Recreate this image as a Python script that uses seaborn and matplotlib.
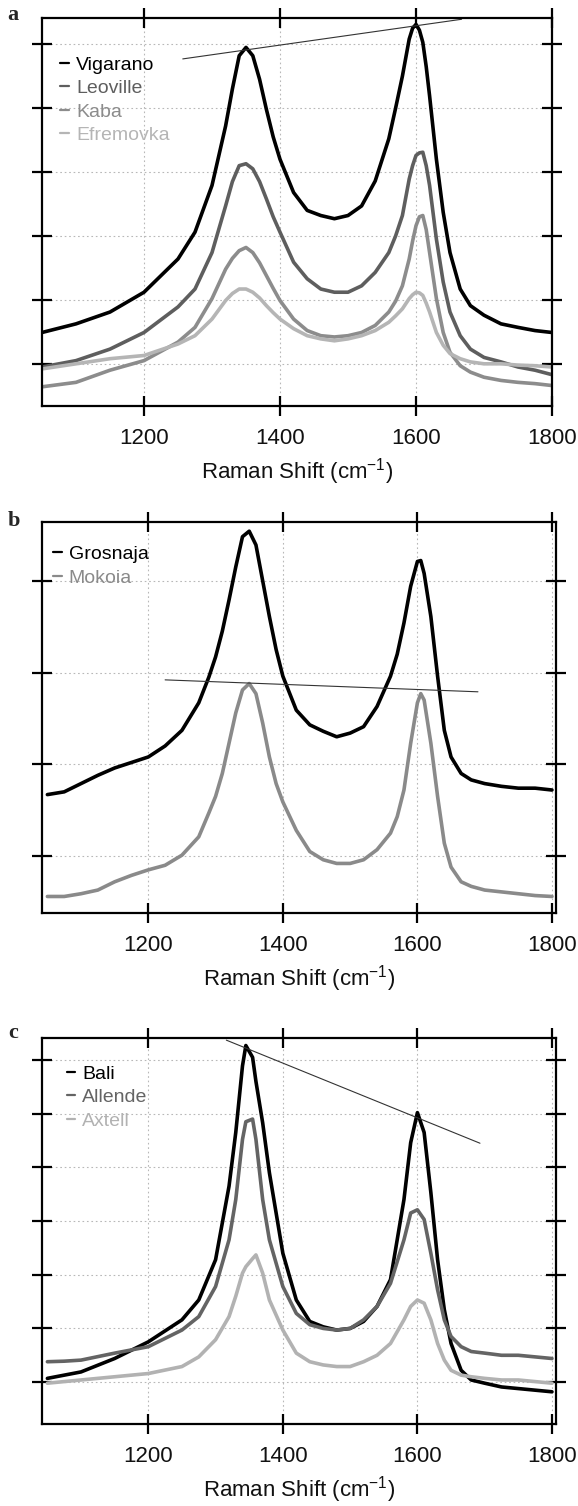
import matplotlib
matplotlib.use("Agg")
import matplotlib.pyplot as plt
import seaborn as sns

# ---------------- data (arbitrary intensity units) ----
x_a = [1050, 1100, 1150, 1200, 1250, 1275, 1300, 1320, 1330, 1340, 1350, 1360,
       1370, 1380, 1390, 1400, 1420, 1440, 1460, 1480, 1500, 1520, 1540, 1560,
       1570, 1580, 1590, 1595, 1600, 1605, 1610, 1615, 1620, 1630, 1640, 1650,
       1665, 1680, 1700, 1725, 1750, 1775, 1800]
vigarano = [0.49, 0.625, 0.81, 1.12, 1.64, 2.06, 2.79, 3.72, 4.3, 4.82, 4.95, 4.82,
            4.45, 3.98, 3.55, 3.2, 2.68, 2.4, 2.32, 2.27, 2.32, 2.47, 2.86, 3.52,
            4.0, 4.5, 5.08, 5.25, 5.31, 5.22, 5.03, 4.65, 4.19, 3.2, 2.37, 1.74,
            1.17, 0.91, 0.76, 0.625, 0.57, 0.52, 0.49]
leoville = [-0.05, 0.05, 0.23, 0.49, 0.89, 1.17, 1.74, 2.47, 2.85, 3.1, 3.13, 3.05,
            2.85, 2.58, 2.3, 2.06, 1.59, 1.33, 1.17, 1.12, 1.12, 1.22, 1.43, 1.74,
            2.0, 2.32, 2.89, 3.1, 3.26, 3.3, 3.31, 3.1, 2.79, 1.95, 1.28, 0.81,
            0.44, 0.23, 0.1, 0.03, -0.05, -0.1, -0.17]
kaba = [-0.36, -0.29, -0.1, 0.05, 0.34, 0.57, 1.02, 1.48, 1.65, 1.77, 1.82, 1.74,
        1.58, 1.38, 1.18, 0.99, 0.7, 0.52, 0.44, 0.42, 0.44, 0.49, 0.6, 0.81,
        0.98, 1.22, 1.64, 1.92, 2.16, 2.3, 2.32, 2.1, 1.74, 1.02, 0.49, 0.18,
        -0.03, -0.13, -0.21, -0.26, -0.29, -0.31, -0.34]
efremovka = [-0.08, 0.0, 0.08, 0.13, 0.31, 0.44, 0.7, 0.99, 1.1, 1.17, 1.17, 1.12,
             1.03, 0.91, 0.8, 0.7, 0.55, 0.44, 0.39, 0.36, 0.39, 0.44, 0.52, 0.65,
             0.75, 0.86, 1.02, 1.08, 1.12, 1.11, 1.07, 0.95, 0.81, 0.49, 0.29, 0.16,
             0.08, 0.03, 0.0, 0.0, -0.02, -0.03, -0.05]
ref_a_x = [1257, 1667]
ref_a_y = [4.77, 5.39]

x_b = [1050, 1075, 1100, 1125, 1150, 1175, 1200, 1225, 1250, 1275, 1290, 1300,
       1310, 1320, 1330, 1340, 1350, 1360, 1370, 1380, 1390, 1400, 1420, 1440,
       1460, 1480, 1500, 1520, 1540, 1560, 1570, 1580, 1590, 1600, 1605, 1610,
       1620, 1630, 1640, 1650, 1665, 1680, 1700, 1725, 1750, 1775, 1800]
grosnaja = [0.67, 0.7, 0.79, 0.88, 0.96, 1.02, 1.08, 1.2, 1.37, 1.67, 1.95, 2.17,
            2.45, 2.79, 3.15, 3.48, 3.54, 3.39, 3.0, 2.61, 2.25, 1.96, 1.59, 1.43,
            1.36, 1.3, 1.34, 1.41, 1.63, 1.96, 2.2, 2.54, 2.94, 3.21, 3.22, 3.08,
            2.61, 1.96, 1.37, 1.08, 0.9, 0.83, 0.79, 0.76, 0.74, 0.74, 0.72]
mokoia = [-0.44, -0.44, -0.41, -0.37, -0.28, -0.21, -0.15, -0.1, 0.01, 0.21, 0.47, 0.65,
          0.9, 1.23, 1.56, 1.81, 1.88, 1.77, 1.45, 1.08, 0.79, 0.59, 0.28, 0.05,
          -0.04, -0.08, -0.08, -0.04, 0.07, 0.25, 0.43, 0.72, 1.23, 1.67, 1.77, 1.7,
          1.23, 0.65, 0.14, -0.12, -0.28, -0.33, -0.37, -0.39, -0.41, -0.43, -0.44]
ref_b_x = [1225, 1690]
ref_b_y = [1.92, 1.79]

x_c = [1050, 1075, 1100, 1150, 1200, 1250, 1275, 1300, 1320, 1330, 1340, 1345,
       1355, 1360, 1370, 1380, 1400, 1420, 1440, 1460, 1480, 1500, 1520, 1540,
       1560, 1580, 1590, 1600, 1610, 1620, 1630, 1640, 1650, 1665, 1680, 1700,
       1725, 1750, 1775, 1800]
bali = [0.07, 0.13, 0.19, 0.44, 0.75, 1.16, 1.53, 2.28, 3.65, 4.65, 5.89, 6.27,
        6.05, 5.6, 4.83, 3.9, 2.4, 1.53, 1.13, 1.03, 0.97, 1.0, 1.13, 1.41,
        1.91, 3.4, 4.46, 5.02, 4.65, 3.53, 2.28, 1.35, 0.72, 0.22, 0.04, -0.02,
        -0.09, -0.12, -0.15, -0.18]
allende = [0.38, 0.39, 0.41, 0.54, 0.66, 0.97, 1.22, 1.78, 2.65, 3.4, 4.52, 4.85,
           4.9, 4.52, 3.4, 2.65, 1.78, 1.28, 1.07, 1.0, 0.97, 1.0, 1.16, 1.41,
           1.84, 2.65, 3.15, 3.21, 3.03, 2.4, 1.72, 1.16, 0.85, 0.66, 0.57, 0.54,
           0.5, 0.5, 0.47, 0.44]
axtell = [-0.02, 0.01, 0.04, 0.1, 0.16, 0.29, 0.47, 0.79, 1.22, 1.6, 2.03, 2.15,
          2.3, 2.37, 2.03, 1.53, 0.97, 0.54, 0.38, 0.32, 0.29, 0.29, 0.38, 0.5,
          0.72, 1.16, 1.41, 1.53, 1.47, 1.16, 0.72, 0.41, 0.22, 0.13, 0.1, 0.07,
          0.04, 0.04, 0.01, -0.02]
ref_c_x = [1316, 1693]
ref_c_y = [6.37, 4.45]

x_ticks = [1200, 1400, 1600, 1800]
panel_letters = ["a", "b", "c"]
x_label = "Raman Shift (cm$^{-1}$)"

# ---------------- styling ----------------
sns.set_theme(style="white")
plt.rcParams['font.family'] = ['Liberation Sans', 'DejaVu Sans']
plt.rcParams['mathtext.fontset'] = 'custom'
plt.rcParams['mathtext.rm'] = 'Liberation Sans'
plt.rcParams['mathtext.it'] = 'Liberation Sans:italic'

W, H = 578, 1506
fig = plt.figure(figsize=(W / 100, H / 100), dpi=100)
fig.patch.set_facecolor('white')


def add_ax(l, t, r, b):
    return fig.add_axes([l / W, 1 - b / H, (r - l) / W, (b - t) / H])


panels = [
    dict(box=(42, 18, 552, 406), xlim=(1050, 1800), ylim=(-0.66, 5.41), nt=6,
         x=x_a, series=[("Vigarano", vigarano, "#000000"),
                        ("Leoville", leoville, "#5e5e5e"),
                        ("Kaba", kaba, "#8c8c8c"),
                        ("Efremovka", efremovka, "#b5b5b5")],
         ref=(ref_a_x, ref_a_y), leg=(0.036, 0.902), letter=(13, 15)),
    dict(box=(42, 522, 556, 913), xlim=(1042, 1806), ylim=(-0.62, 3.64), nt=4,
         x=x_b, series=[("Grosnaja", grosnaja, "#000000"),
                        ("Mokoia", mokoia, "#8a8a8a")],
         ref=(ref_b_x, ref_b_y), leg=(0.022, 0.94), letter=(14, 521)),
    dict(box=(42, 1038, 556, 1424), xlim=(1042, 1806), ylim=(-0.78, 6.41), nt=7,
         x=x_c, series=[("Bali", bali, "#000000"),
                        ("Allende", allende, "#646464"),
                        ("Axtell", axtell, "#b2b2b2")],
         ref=(ref_c_x, ref_c_y), leg=(0.048, 0.93), letter=(13, 1033)),
]

for p, letter in zip(panels, panel_letters):
    ax = add_ax(*p["box"])
    ax.set_facecolor('white')
    for name, yv, col in p["series"]:
        sns.lineplot(x=p["x"], y=yv, color=col, lw=2.6, ax=ax, label=name,
                     estimator=None, sort=False)
    rx, ry = p["ref"]
    sns.lineplot(x=rx, y=ry, color="#333333", lw=0.8, ax=ax, estimator=None,
                 sort=False)

    ax.set_xlim(*p["xlim"])
    ax.set_ylim(*p["ylim"])
    ax.set_xticks(x_ticks)
    ax.set_yticks(list(range(p["nt"])))
    ax.set_yticklabels([])
    ax.grid(True, ls=(0, (1.5, 2.5)), color="#b8b8b8", lw=0.8)
    ax.set_axisbelow(True)
    for s in ax.spines.values():
        s.set_color("black")
        s.set_linewidth(1.6)
    ax.tick_params(axis='both', direction='inout', length=14, width=1.6,
                   color='black', top=True, right=True, left=True, bottom=True,
                   labelsize=16, pad=9, labelcolor='#111111')
    ax.set_xlabel(x_label, fontsize=16, labelpad=5, color='#111111')
    ax.set_ylabel("")

    leg = ax.legend(loc='upper left', bbox_to_anchor=p["leg"], frameon=False,
                    handlelength=0.45, handletextpad=0.35, labelspacing=0.3,
                    borderpad=0, borderaxespad=0, fontsize=14,
                    labelcolor='linecolor')
    for h in leg.legend_handles:
        h.set_linewidth(1.6)

    fig.text(p["letter"][0] / W, 1 - p["letter"][1] / H, letter,
             fontfamily=['Liberation Serif', 'DejaVu Serif'], fontweight='bold',
             fontsize=16, ha='center', va='center')

fig.savefig("out.png", dpi=100, facecolor='white')
